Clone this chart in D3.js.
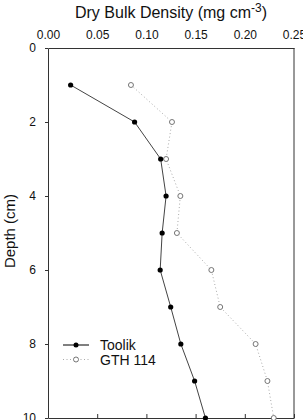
<!DOCTYPE html>
<html>
<head>
<meta charset="utf-8">
<script src="https://cdn.jsdelivr.net/npm/d3@7"></script>
<style>
  body { margin: 0; background: #fff; }
  svg { font-family: "Liberation Sans", Arial, sans-serif; }
</style>
</head>
<body>
<div id="chart"></div>
<script>
// chart data
var depths   = [1, 2, 3, 4, 5, 6, 7, 8, 9, 10];
var toolik   = [0.023, 0.088, 0.1145, 0.120, 0.116, 0.114, 0.1247, 0.135, 0.149, 0.160];
var gth114   = [0.0843, 0.126, 0.120, 0.1345, 0.131, 0.166, 0.175, 0.211, 0.223, 0.2294];
var xTicks   = [0, 0.05, 0.10, 0.15, 0.20, 0.25];
var yTicks   = [0, 2, 4, 6, 8, 10];
var seriesNames = ["Toolik", "GTH 114"];

// svg box size
var width = 303,
    height = 420,
    margins = {top: 48, bottom: 2, left: 48, right: 9};

var svg = d3.select("#chart").append("svg")
    .attr("width", width)
    .attr("height", height);

var x = d3.scaleLinear()
    .domain([0, 0.25])
    .range([margins.left, width - margins.right]);

var y = d3.scaleLinear()
    .domain([0, 10])
    .range([margins.top, height - margins.bottom]);

// top axis: labels only
var topAxis = svg.append("g")
    .attr("transform", "translate(0," + margins.top + ")")
    .call(d3.axisTop(x).tickValues(xTicks).tickFormat(d3.format(".2f")).tickSize(0).tickPadding(9));
topAxis.select(".domain").attr("stroke", "#333");
topAxis.selectAll("text").attr("font-size", 12).attr("fill", "#111").attr("font-family", null);

// bottom axis: ticks inward
var bottomAxis = svg.append("g")
    .attr("transform", "translate(0," + (height - margins.bottom) + ")")
    .call(d3.axisBottom(x).tickValues(xTicks).tickSize(-4).tickSizeOuter(0).tickFormat(""));
bottomAxis.select(".domain").attr("stroke", "#333");
bottomAxis.selectAll("line").attr("stroke", "#333");

// left axis
var leftAxis = svg.append("g")
    .attr("transform", "translate(" + margins.left + ",0)")
    .call(d3.axisLeft(y).tickValues(yTicks).tickSize(3).tickSizeOuter(0).tickPadding(9));
leftAxis.select(".domain").attr("stroke", "#333");
leftAxis.selectAll("line").attr("stroke", "#333");
leftAxis.selectAll("text").attr("font-size", 12).attr("fill", "#111").attr("font-family", null);

// right frame
svg.append("line")
    .attr("x1", x(0.25)).attr("x2", x(0.25))
    .attr("y1", y(0)).attr("y2", y(10))
    .attr("stroke", "#333");

// titles
var title = svg.append("text")
    .attr("x", (x(0) + x(0.25)) / 2)
    .attr("y", 18)
    .attr("text-anchor", "middle")
    .attr("font-size", 16)
    .attr("fill", "#111");
title.append("tspan").text("Dry Bulk Density (mg cm");
title.append("tspan").attr("dy", -6).attr("font-size", 12).text("-3");
title.append("tspan").attr("dy", 6).text(")");

svg.append("text")
    .attr("transform", "translate(15," + (y(5) - 2) + ") rotate(-90)")
    .attr("text-anchor", "middle")
    .attr("font-size", 15)
    .attr("fill", "#111")
    .text("Depth (cm)");

var line = d3.line()
    .x(function(d) { return x(d.v); })
    .y(function(d) { return y(d.depth); });

var toolikData = depths.map(function(d, i) { return {depth: d, v: toolik[i]}; });
var gthData = depths.map(function(d, i) { return {depth: d, v: gth114[i]}; });

// GTH 114: dotted gray line, open circles
svg.append("path")
    .datum(gthData)
    .attr("d", line)
    .attr("fill", "none")
    .attr("stroke", "#aaa")
    .attr("stroke-width", 1)
    .attr("stroke-dasharray", "1,2.5");

svg.selectAll(".gth")
    .data(gthData)
    .enter()
    .append("circle")
    .attr("class", "gth")
    .attr("cx", function(d) { return x(d.v); })
    .attr("cy", function(d) { return y(d.depth); })
    .attr("r", 2.5)
    .attr("fill", "#fff")
    .attr("stroke", "#666")
    .attr("stroke-width", 0.9);

// Toolik: solid dark line, filled circles
svg.append("path")
    .datum(toolikData)
    .attr("d", line)
    .attr("fill", "none")
    .attr("stroke", "#444")
    .attr("stroke-width", 1);

svg.selectAll(".toolik")
    .data(toolikData)
    .enter()
    .append("circle")
    .attr("class", "toolik")
    .attr("cx", function(d) { return x(d.v); })
    .attr("cy", function(d) { return y(d.depth); })
    .attr("r", 2.6)
    .attr("fill", "#000");

// legend
var legend = svg.selectAll(".legend")
    .data(seriesNames)
    .enter()
    .append("g")
    .attr("class", "legend")
    .attr("transform", function(d, i) { return "translate(0," + (345 + i * 14.5) + ")"; });

legend.append("line")
    .attr("x1", 63).attr("x2", 89)
    .attr("stroke", function(d, i) { return i == 0 ? "#000" : "#aaa"; })
    .attr("stroke-dasharray", function(d, i) { return i == 0 ? null : "1,2.5"; });

legend.append("circle")
    .attr("cx", 76)
    .attr("r", 2.5)
    .attr("fill", function(d, i) { return i == 0 ? "#000" : "#fff"; })
    .attr("stroke", function(d, i) { return i == 0 ? "none" : "#666"; })
    .attr("stroke-width", 0.9);

legend.append("text")
    .attr("x", 100)
    .attr("y", 5)
    .attr("font-size", 14)
    .attr("fill", "#111")
    .text(function(d) { return d; });
</script>
</body>
</html>
